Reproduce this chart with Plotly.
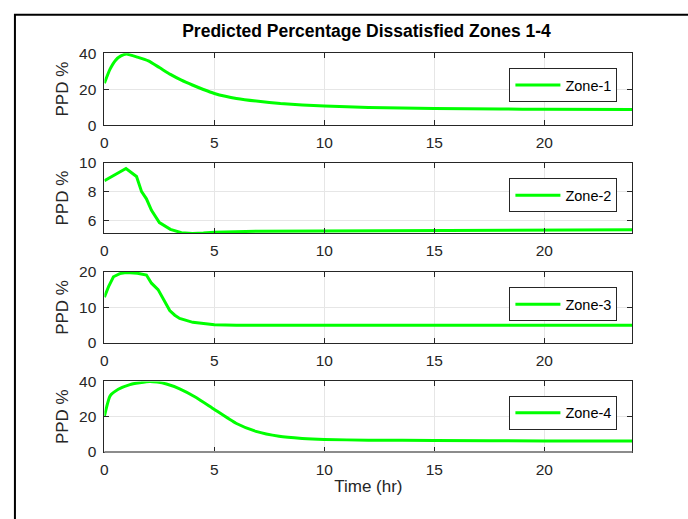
import plotly.graph_objects as go

# ---- data ----
t1 = [0, 0.25, 0.5, 0.75, 1.0, 1.5, 2.0, 2.5, 3.0, 3.5, 4.0, 4.5, 5.0, 5.5, 6.0, 7.0, 8.0, 9.0, 10, 12, 15, 18, 20, 24]
zone1 = [23.3, 31, 36, 38.5, 39.5, 37.8, 35.7, 32, 28.2, 25, 22.3, 19.8, 17.6, 16, 14.8, 13.2, 12.0, 11.2, 10.6, 9.8, 9.2, 8.9, 8.8, 8.6]

t2 = [0, 0.5, 0.98, 1.46, 1.69, 1.91, 2.14, 2.5, 3.0, 3.5, 4.0, 4.5, 5, 7, 10, 15, 20, 24]
zone2 = [8.76, 9.2, 9.6, 9.05, 8.0, 7.5, 6.7, 5.85, 5.38, 5.15, 5.1, 5.13, 5.18, 5.25, 5.27, 5.3, 5.32, 5.35]

t3 = [0, 0.2, 0.41, 0.7, 1.0, 1.5, 1.91, 2.14, 2.44, 2.67, 2.97, 3.2, 3.42, 4.02, 4.5, 5, 6, 24]
zone3 = [12.9, 16, 18.6, 19.5, 19.8, 19.6, 19.1, 16.8, 15.0, 12.3, 9.1, 7.8, 6.9, 5.8, 5.4, 5.15, 5.0, 5.0]

t4 = [0, 0.26, 0.63, 1.16, 1.6, 2.06, 2.4, 2.82, 3.42, 4.17, 5.0, 5.98, 6.89, 7.94, 8.99, 10, 12, 15, 20, 24]
zone4 = [20.3, 31.8, 35.5, 38.2, 39.2, 40, 39.6, 38.5, 35.8, 30.9, 24.1, 16.3, 11.7, 8.9, 7.7, 7.1, 6.7, 6.5, 6.3, 6.2]

names = ["Zone-1", "Zone-2", "Zone-3", "Zone-4"]
xticks = [0, 5, 10, 15, 20]
yticks = [[0, 20, 40], [6, 8, 10], [0, 10, 20], [0, 20, 40]]
yranges = [[0, 40], [5.1, 10], [0, 20], [0, 40]]
title = "Predicted Percentage Dissatisfied Zones 1-4"
xlabel = "Time (hr)"
ylabel = "PPD %"

W, H = 688, 519
FONT = "Liberation Sans, Arial, sans-serif"
GREEN = "#00ff00"
AX = "#262626"
TICK_SIZE = 15.5
LABEL_SIZE = 17
TITLE_SIZE = 17.5
LEG_SIZE = 14.5

# pixel layout (top, bottom) of each panel
panels = [(45.7, 120), (159, 232), (271.7, 345.3), (385, 458)]
legend_tops = [61, 175, 287.7, 400]
x_left, x_right = 101, 632

fig = go.Figure()
series = [(t1, zone1, "spline"), (t2, zone2, "linear"), (t3, zone3, "linear"), (t4, zone4, "spline")]
for i, (tt, vv, shp) in enumerate(series):
    sfx = "" if i == 0 else str(i + 1)
    fig.add_trace(go.Scatter(
        x=tt, y=vv, mode="lines", name=names[i],
        line=dict(color=GREEN, width=3, shape=shp, smoothing=0.5),
        xaxis="x" + sfx, yaxis="y" + sfx,
        legend="legend" + sfx, showlegend=True,
    ))

layout = dict(
    width=W, height=H, margin=dict(l=0, r=0, t=0, b=0),
    paper_bgcolor="white", plot_bgcolor="white",
    font=dict(family=FONT, size=TICK_SIZE, color=AX),
    title=dict(text="<b>" + title + "</b>", x=(x_left + x_right) / 2 / W, xanchor="center",
               y=1 - 31 / H, yanchor="middle", font=dict(size=TITLE_SIZE, color="black", family=FONT)),
)

for i, (top, bot) in enumerate(panels):
    sfx = "" if i == 0 else str(i + 1)
    layout["xaxis" + sfx] = dict(
        domain=[x_left / W, x_right / W], range=[0, 24], anchor="y" + sfx,
        tickvals=xticks, ticks="inside", ticklen=5, tickcolor=AX, ticklabelstandoff=3,
        showline=True, linecolor=AX, linewidth=1, mirror="ticks",
        showgrid=True, gridcolor="#e6e6e6", gridwidth=1, zeroline=False,
        tickfont=dict(size=TICK_SIZE, color=AX),
        title=dict(text=xlabel if i == 3 else "", font=dict(size=LABEL_SIZE, color=AX), standoff=3),
    )
    layout["yaxis" + sfx] = dict(
        domain=[1 - bot / H, 1 - top / H], range=yranges[i], anchor="x" + sfx,
        tickvals=yticks[i], ticks="inside", ticklen=5, tickcolor=AX, ticklabelstandoff=4,
        showline=True, linecolor=AX, linewidth=1, mirror="ticks",
        showgrid=True, gridcolor="#e6e6e6", gridwidth=1, zeroline=False,
        tickfont=dict(size=TICK_SIZE, color=AX),
        title=dict(text=ylabel, font=dict(size=LABEL_SIZE, color=AX), standoff=6),
    )
    layout["legend" + sfx] = dict(
        x=617 / W, xanchor="right", y=1 - legend_tops[i] / H, yanchor="top",
        bordercolor=AX, borderwidth=1, bgcolor="white", itemwidth=45,
        font=dict(size=LEG_SIZE, color="black"),
    )

fig.update_layout(**layout)

# outer figure frame
fig.add_shape(type="rect", xref="paper", yref="paper",
              x0=11 / W, x1=1.02, y0=-0.02, y1=1 - 6 / H,
              line=dict(color="black", width=2), fillcolor="rgba(0,0,0,0)", layer="below")
# grey bottom axis edge of the last panel
fig.add_shape(type="line", xref="paper", yref="paper",
              x0=x_left / W, x1=x_right / W, y0=1 - 458 / H, y1=1 - 458 / H,
              line=dict(color="#8c8c8c", width=2))

fig.write_html("out.html",
               post_script="document.body.style.margin='0';document.body.style.overflow='hidden';")
